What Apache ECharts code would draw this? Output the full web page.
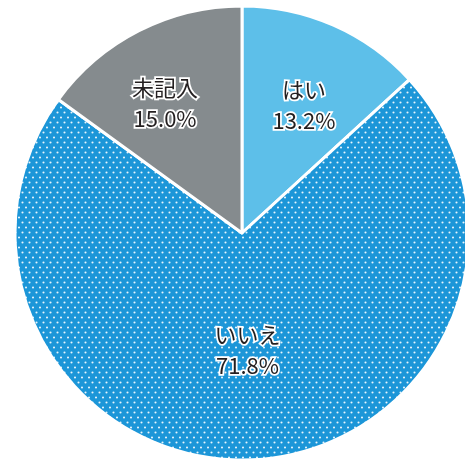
<!DOCTYPE html>
<html><head><meta charset="utf-8">
<script src="https://cdn.jsdelivr.net/npm/echarts@6/dist/echarts.min.js"></script>
<style>html,body{margin:0;padding:0;background:#fff}#c{width:465px;height:462px}</style>
</head><body><div id="c"></div>
<script>
const categories = ['はい', 'いいえ', '未記入'];
const percents = [13.2, 71.8, 15.0];
const colors = ['#5dbfe9', '#1c96d8', '#858b8e'];
const dotted = [false, true, false];
const labelOffsets = [[15, -21], [-1, 1], [-24, -26]];

function dotPattern(bg) {
  const c = document.createElement('canvas');
  c.width = 7; c.height = 10;
  const g = c.getContext('2d');
  g.fillStyle = bg; g.fillRect(0, 0, 7, 10);
  g.fillStyle = 'rgba(255,255,255,0.9)';
  [[1.5, 2.5], [5, 7.5]].forEach(p => { g.beginPath(); g.arc(p[0], p[1], 1.05, 0, Math.PI * 2); g.fill(); });
  return { image: c, repeat: 'repeat' };
}

const chart = echarts.init(document.getElementById('c'));
chart.setOption({
  animation: false,
  series: [{
    type: 'pie',
    center: [242, 233],
    radius: 227,
    startAngle: 90,
    clockwise: true,
    silent: true,
    itemStyle: { borderColor: '#fff', borderWidth: 3 },
    label: {
      show: true,
      position: 'inside',
      formatter: p => p.name + '\n' + p.value.toFixed(1) + '%',
      fontFamily: '"Noto Sans CJK JP", "Noto Sans", sans-serif',
      fontSize: 22,
      lineHeight: 31,
      color: '#231f20',
      textBorderColor: '#fff',
      textBorderWidth: 3.5
    },
    labelLine: { show: false },
    labelLayout: function (params) {
      const o = labelOffsets[params.dataIndex];
      return { dx: o[0], dy: o[1] };
    },
    data: categories.map((n, i) => ({
      name: n,
      value: percents[i],
      itemStyle: { color: dotted[i] ? dotPattern(colors[i]) : colors[i] }
    }))
  }]
});
</script>
</body></html>
